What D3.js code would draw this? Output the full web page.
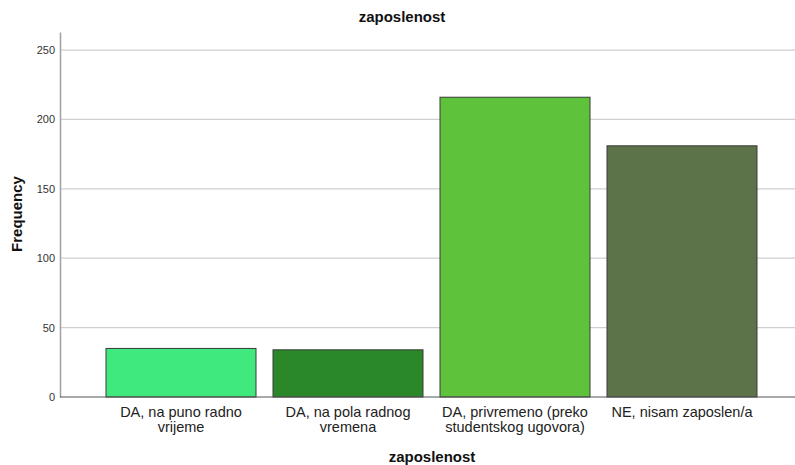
<!DOCTYPE html>
<html>
<head>
<meta charset="utf-8">
<script src="https://cdn.jsdelivr.net/npm/d3@7"></script>
<style>
  body { margin: 0; background: #fff; }
  text { font-family: "Liberation Sans", Arial, sans-serif; }
</style>
</head>
<body>
<svg id="chart" width="795" height="465"></svg>
<script>
// Chart data
const categories = [
  "DA, na puno radno vrijeme",
  "DA, na pola radnog vremena",
  "DA, privremeno (preko studentskog ugovora)",
  "NE, nisam zaposlen/a"
];
const frequencies = [35, 34, 216, 181];
const barColors = ["#40e97d", "#2a8829", "#5ec23a", "#5c7249"];
const yTicks = [0, 50, 100, 150, 200, 250];

const svg = d3.select("#chart");
const margin = { top: 32, right: 0, bottom: 68, left: 60 };
const width = +svg.attr("width");
const height = +svg.attr("height");

// Scales
const y = d3.scaleLinear()
  .domain([0, 263])
  .range([height - margin.bottom, margin.top]);

const x = d3.scaleBand()
  .domain(categories)
  .range([97.5, 765.5])
  .paddingInner(17 / 167)
  .paddingOuter(8.5 / 167);

// Gridlines
svg.append("g")
  .selectAll("line")
  .data(yTicks.filter(d => d > 0))
  .join("line")
  .attr("x1", margin.left)
  .attr("x2", width - margin.right)
  .attr("y1", d => y(d))
  .attr("y2", d => y(d))
  .attr("stroke", "#cfcfcf")
  .attr("stroke-width", 1.2);

// Y axis
const yAxis = svg.append("g")
  .attr("transform", "translate(" + margin.left + ",0)")
  .style("color", "#333")
  .call(d3.axisLeft(y).tickValues(yTicks).tickSize(0).tickPadding(5));
yAxis.select(".domain").attr("stroke", "#a0a0a0").attr("stroke-width", 1.5);
yAxis.selectAll("text")
  .attr("font-size", "11px")
  .attr("fill", "#333")
  .style("font-family", "Liberation Sans, Arial, sans-serif");

// Bars
svg.append("g")
  .selectAll("rect")
  .data(categories)
  .join("rect")
  .attr("x", d => x(d))
  .attr("width", x.bandwidth())
  .attr("y", (d, i) => y(frequencies[i]))
  .attr("height", (d, i) => y(0) - y(frequencies[i]))
  .attr("fill", (d, i) => barColors[i])
  .attr("stroke", "#3a3a3a")
  .attr("stroke-width", 1);

// X axis line
svg.append("line")
  .attr("x1", margin.left)
  .attr("x2", width - margin.right)
  .attr("y1", y(0))
  .attr("y2", y(0))
  .attr("stroke", "#555")
  .attr("stroke-width", 1.2);

// Category labels (wrapped)
const labelG = svg.append("g");
categories.forEach(cat => {
  const t = labelG.append("text")
    .attr("x", x(cat) + x.bandwidth() / 2)
    .attr("y", 417)
    .attr("text-anchor", "middle")
    .attr("font-size", "14.5px")
    .attr("fill", "#222");
  wrapText(t, cat, 160, 14.5);
});

function wrapText(t, str, maxW, lineH) {
  const words = str.split(" ");
  let line = [];
  let tspan = t.append("tspan").attr("x", t.attr("x")).attr("dy", 0);
  words.forEach(w => {
    line.push(w);
    tspan.text(line.join(" "));
    if (tspan.node().getComputedTextLength() > maxW && line.length > 1) {
      line.pop();
      tspan.text(line.join(" "));
      line = [w];
      tspan = t.append("tspan").attr("x", t.attr("x")).attr("dy", lineH).text(w);
    }
  });
}

// Titles
svg.append("text")
  .attr("x", 402)
  .attr("y", 22)
  .attr("text-anchor", "middle")
  .attr("font-size", "15px")
  .attr("font-weight", "bold")
  .attr("fill", "#111")
  .text("zaposlenost");

svg.append("text")
  .attr("x", 432)
  .attr("y", 462)
  .attr("text-anchor", "middle")
  .attr("font-size", "15px")
  .attr("font-weight", "bold")
  .attr("fill", "#111")
  .text("zaposlenost");

svg.append("text")
  .attr("transform", "translate(22,214) rotate(-90)")
  .attr("text-anchor", "middle")
  .attr("font-size", "15px")
  .attr("font-weight", "bold")
  .attr("fill", "#111")
  .text("Frequency");
</script>
</body>
</html>
